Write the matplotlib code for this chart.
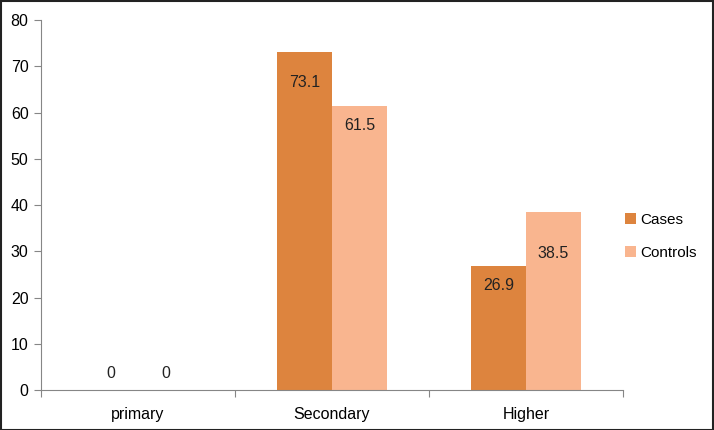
import matplotlib.pyplot as plt
import numpy as np
from matplotlib.patches import Rectangle

categories = ["primary", "Secondary", "Higher"]
cases = [0, 73.1, 26.9]
controls = [0, 61.5, 38.5]

color = {"Cases": "#DD843E", "Controls": "#F9B58F", "axis": "#868686"}
FS = 11.5

plt.rcParams["font.family"] = ["Liberation Sans", "DejaVu Sans"]

fig = plt.figure(figsize=(7.14, 4.30), dpi=100)
ax = fig.add_axes([41 / 714, 40 / 430, 582 / 714, 370 / 430])

x = np.arange(len(categories))
width = 0.283
b1 = ax.bar(x - width / 2, cases, width, color=color["Cases"], label="Cases")
b2 = ax.bar(x + width / 2, controls, width, color=color["Controls"], label="Controls")

# label offsets below bar tops (points), as placed in the original
drops = {"Cases": [-12, -22, -14], "Controls": [-12, -14, -30]}
for bars, vals, key in [(b1, cases, "Cases"), (b2, controls, "Controls")]:
    for bar, v, d in zip(bars, vals, drops[key]):
        if v == 0:
            d = 12
        ax.annotate(f"{v:g}", (bar.get_x() + bar.get_width() / 2, v),
                    xytext=(0, d), textcoords="offset points",
                    ha="center", va="center", fontsize=FS, color="#222222")

ax.set_xlim(-0.5, len(categories) - 0.5)
ax.set_ylim(0, 80)
ax.set_yticks(range(0, 81, 10))
ax.set_xticks(np.arange(-0.5, len(categories), 1))
ax.set_xticklabels([])
ax.set_xticks(x, minor=True)
ax.set_xticklabels(categories, minor=True)
ax.tick_params(axis="x", which="minor", length=0, pad=12, labelsize=FS)
ax.tick_params(axis="x", which="major", length=5, color=color["axis"])
ax.tick_params(axis="y", length=5, color=color["axis"], labelsize=FS, pad=4)

for s in ["top", "right"]:
    ax.spines[s].set_visible(False)
for s in ["left", "bottom"]:
    ax.spines[s].set_color(color["axis"])

ax.legend(loc="center left", bbox_to_anchor=(0.98, 0.415), frameon=False,
          fontsize=11, handlelength=0.7, handleheight=0.7, labelspacing=1.25,
          handletextpad=0.3)

fig.patches.append(Rectangle((0.001, 0.001), 0.997, 0.997, transform=fig.transFigure,
                             fill=False, edgecolor="#222222", linewidth=1.5))

fig.savefig("out.png", dpi=100)
